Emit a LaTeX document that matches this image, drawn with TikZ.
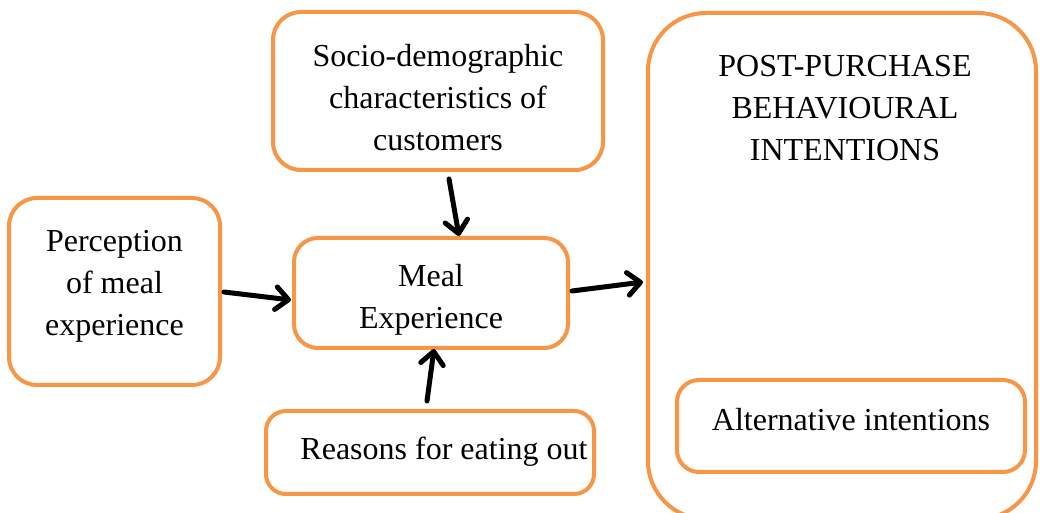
\documentclass[tikz,border=0pt]{standalone}
\usepackage{fontspec}
\setmainfont{Liberation Serif}
\usetikzlibrary{arrows.meta,calc}
\newlength\px
\setlength\px{0.75pt}
\definecolor{boxorange}{HTML}{F79646}
\tikzset{
  box/.style={draw=boxorange, line width=4\px, fill=white, rounded corners=28\px, inner sep=0pt},
  bigbox/.style={draw=boxorange, line width=4\px, rounded corners=58\px, inner sep=0pt},
  txt/.style={align=center, inner sep=0pt, font=\fontsize{24}{31.5}\selectfont},
  arr/.style={line width=3.75pt, line cap=round, line join=round,
    -{Straight Barb[length=9.5pt,width=17pt,line cap=round,line join=round]}}
}
\begin{document}
\begin{tikzpicture}[x=0.75pt,y=-0.75pt]
\useasboundingbox (0,0) rectangle (1040,513);
\fill[white] (0,0) rectangle (1040,513);
\clip (0,0) rectangle (1040,513);

\node[bigbox, minimum width=388\px, minimum height=506\px] (post) at (842,266) {};
\node[txt] (posttitle) at (845,108) {POST-PURCHASE\\BEHAVIOURAL\\INTENTIONS};

\node[box, minimum width=330\px, minimum height=158\px,
  label={[name=soctext, txt, yshift=-5.25pt]center:{Socio-demographic\\characteristics of\\customers}}]
  (soc) at (438,91) {};
\node[box, minimum width=211\px, minimum height=187\px,
  label={[name=pertext, txt, yshift=3.75pt]center:{Perception\\of meal\\experience}}]
  (per) at (114.5,291.5) {};
\node[box, minimum width=274\px, minimum height=110\px, rounded corners=24\px,
  label={[name=mealtext, txt, yshift=-5.25pt]center:{Meal\\Experience}}]
  (meal) at (431,293) {};
\node[box, minimum width=328\px, minimum height=83\px, rounded corners=20\px,
  label={[name=reatext, txt, xshift=10.5pt, yshift=0.4pt]center:{Reasons for eating out}}]
  (rea) at (430,452.5) {};
\node[box, minimum width=348\px, minimum height=92\px, rounded corners=22\px,
  label={[name=alttext, txt, yshift=4.8pt]center:{Alternative intentions}}]
  (alt) at (851,426) {};

\draw[arr] ($(soc.south)+(11,7)$) -- ($(meal.north)+(28,0)$);
\draw[arr] ($(per.east)+(2,0.5)$) -- ($(meal.west)+(-1,7)$);
\draw[arr] ($(rea.north)+(-3,-8)$) -- ($(meal.south)+(3,-1)$);
\draw[arr] ($(meal.east)+(2,-2)$) -- ($(post.west)+(-3,16)$);
\end{tikzpicture}
\end{document}
